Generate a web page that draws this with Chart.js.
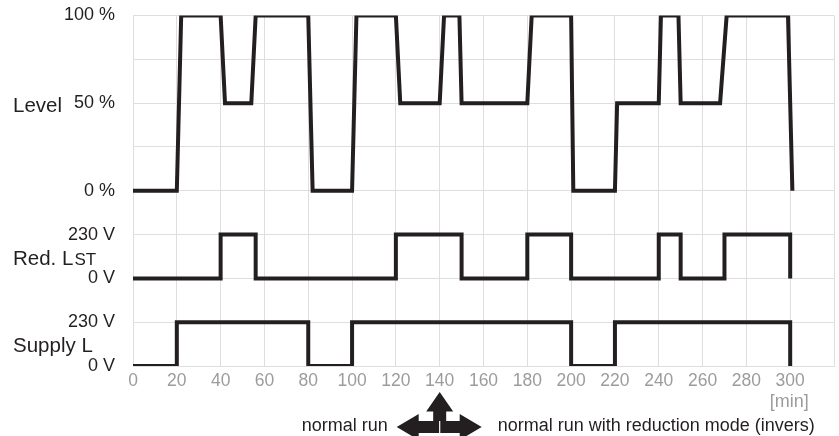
<!DOCTYPE html>
<html>
<head>
<meta charset="utf-8">
<script src="https://cdn.jsdelivr.net/npm/chart.js@4/dist/chart.umd.min.js"></script>
<style>
  html, body { margin: 0; padding: 0; background: #fff; }
  #wrap { width: 839px; height: 436px; }
</style>
</head>
<body>
<div id="wrap"><canvas id="chart" width="839" height="436"></canvas></div>
<script>
'use strict';

// ─── Data ────────────────────────────────────────────────────
// Level: fill level in %, with the short ramps seen in the picture
const levelMinutes = [0, 20, 22, 40, 42, 54, 56, 80, 82, 100, 102, 120, 122, 140, 142, 149, 150,
                      180, 182, 200, 201, 220, 221, 240, 241, 249, 250, 268, 271, 299, 301];
const levelPercent = [0, 0, 100, 100, 50, 50, 100, 100, 0, 0, 100, 100, 50, 50, 100, 100, 50,
                      50, 100, 100, 0, 0, 50, 50, 100, 100, 50, 50, 100, 100, 0];

// Red. LST: switching instants (stepped) in V
const redMinutes = [0, 40, 56, 120, 150, 180, 200, 240, 250, 270, 300];
const redVolts   = [0, 230, 0, 230, 0, 230, 0, 230, 0, 230, 0];

// Supply L: switching instants (stepped) in V
const supplyMinutes = [0, 20, 80, 100, 200, 220, 300];
const supplyVolts   = [0, 230, 0, 230, 0, 230, 0];

// y ticks, bottom to top (three stacked bands on one axis)
const yTickLabels = ['0 V', '230 V', '0 V', '230 V', '0 %', '', '50 %', '', '100 %'];
const xLastLabel  = 300;

const INK  = '#231f20';
const GRID = '#dedede';
const GREY = '#9c9c9c';
const FONT = '"Liberation Sans", Arial, Helvetica, sans-serif';

// band mapping onto the shared y axis
const toLevel  = p => 4 + p / 25;
const toRed    = v => 2 + v / 230;
const toSupply = v => v / 230;

const trace = (xs, ys, map, stepped) => ({
  data: xs.map((x, i) => ({ x, y: map(ys[i]) })),
  borderColor: INK,
  borderWidth: 4,
  pointRadius: 0,
  fill: false,
  tension: 0,
  stepped,
  borderJoinStyle: 'miter',
  borderCapStyle: 'butt',
});

// ─── Extra labels: row names, unit, run-mode annotation ──────
const annotations = {
  id: 'annotations',
  afterDraw(chart) {
    const { ctx, scales: { x, y } } = chart;
    ctx.save();
    ctx.fillStyle = INK;
    ctx.textBaseline = 'alphabetic';
    ctx.textAlign = 'left';

    ctx.font = `20.5px ${FONT}`;
    ctx.fillText('Level', 13, y.getPixelForValue(6) + 9);

    const redY = (y.getPixelForValue(2) + y.getPixelForValue(3)) / 2 + 8.5;
    ctx.fillText('Red. L', 13, redY);
    const w = ctx.measureText('Red. L').width;
    ctx.font = `17px ${FONT}`;
    ctx.fillText('ST', 13 + w + 1, redY);

    ctx.font = `20.5px ${FONT}`;
    const supY = (y.getPixelForValue(0) + y.getPixelForValue(1)) / 2 + 7.5;
    ctx.fillText('Supply L', 13, supY);

    // unit under the 300 tick
    ctx.font = `18px ${FONT}`;
    ctx.fillStyle = GREY;
    ctx.textAlign = 'center';
    ctx.fillText('[min]', x.getPixelForValue(xLastLabel) - 1, 407);

    // run-mode annotation with the three-way arrow
    const cx = x.getPixelForValue(140);
    const cy = 427;
    ctx.fillStyle = INK;
    ctx.textAlign = 'right';
    ctx.fillText('normal run', cx - 52, cy + 4);
    ctx.textAlign = 'left';
    ctx.fillText('normal run with reduction mode (invers)', cx + 58, cy + 4);

    ctx.beginPath();
    // up arrow
    ctx.moveTo(cx, 392);
    ctx.lineTo(cx + 13.5, 411.5);
    ctx.lineTo(cx + 6.5, 411.5);
    ctx.lineTo(cx + 6.5, cy - 6);
    // right arrow
    ctx.lineTo(cx + 20, cy - 6);
    ctx.lineTo(cx + 20, cy - 13);
    ctx.lineTo(cx + 42, cy);
    ctx.lineTo(cx + 20, cy + 13);
    ctx.lineTo(cx + 20, cy + 6);
    // left arrow
    ctx.lineTo(cx - 21, cy + 6);
    ctx.lineTo(cx - 21, cy + 13);
    ctx.lineTo(cx - 43, cy);
    ctx.lineTo(cx - 21, cy - 13);
    ctx.lineTo(cx - 21, cy - 6);
    ctx.lineTo(cx - 6.5, cy - 6);
    ctx.lineTo(cx - 6.5, 411.5);
    ctx.lineTo(cx - 13.5, 411.5);
    ctx.closePath();
    ctx.fill();

    ctx.strokeStyle = '#fff';
    ctx.lineWidth = 1.2;
    ctx.beginPath();
    ctx.moveTo(cx, cy - 6);
    ctx.lineTo(cx, cy + 7);
    ctx.stroke();
    ctx.restore();
  },
};

new Chart(document.getElementById('chart').getContext('2d'), {
  type: 'line',
  data: {
    datasets: [
      trace(levelMinutes, levelPercent, toLevel, false),
      trace(redMinutes, redVolts, toRed, true),
      trace(supplyMinutes, supplyVolts, toSupply, true),
    ],
  },
  options: {
    responsive: false,
    animation: false,
    layout: { padding: { top: 15.5, right: 3, left: 0, bottom: 0 } },
    plugins: { legend: { display: false }, tooltip: { enabled: false } },
    scales: {
      x: {
        type: 'linear',
        min: 0,
        max: 320,
        afterFit: s => { s.height = 70; },
        grid: { color: GRID, drawTicks: false },
        border: { color: GRID },
        ticks: {
          stepSize: 20,
          autoSkip: false,
          maxRotation: 0,
          padding: 5,
          color: GREY,
          font: { family: FONT, size: 17.5 },
          callback: v => (v <= xLastLabel ? v : ''),
        },
      },
      y: {
        min: 0,
        max: 8,
        afterFit: s => { s.width = 133; s.paddingTop = 0; s.paddingBottom = 0; },
        grid: { color: GRID, drawTicks: false },
        border: { color: GRID },
        ticks: {
          stepSize: 1,
          autoSkip: false,
          padding: 18,
          color: INK,
          font: { family: FONT, size: 18 },
          callback: v => yTickLabels[v] ?? '',
        },
      },
    },
  },
  plugins: [annotations],
});
</script>
</body>
</html>
